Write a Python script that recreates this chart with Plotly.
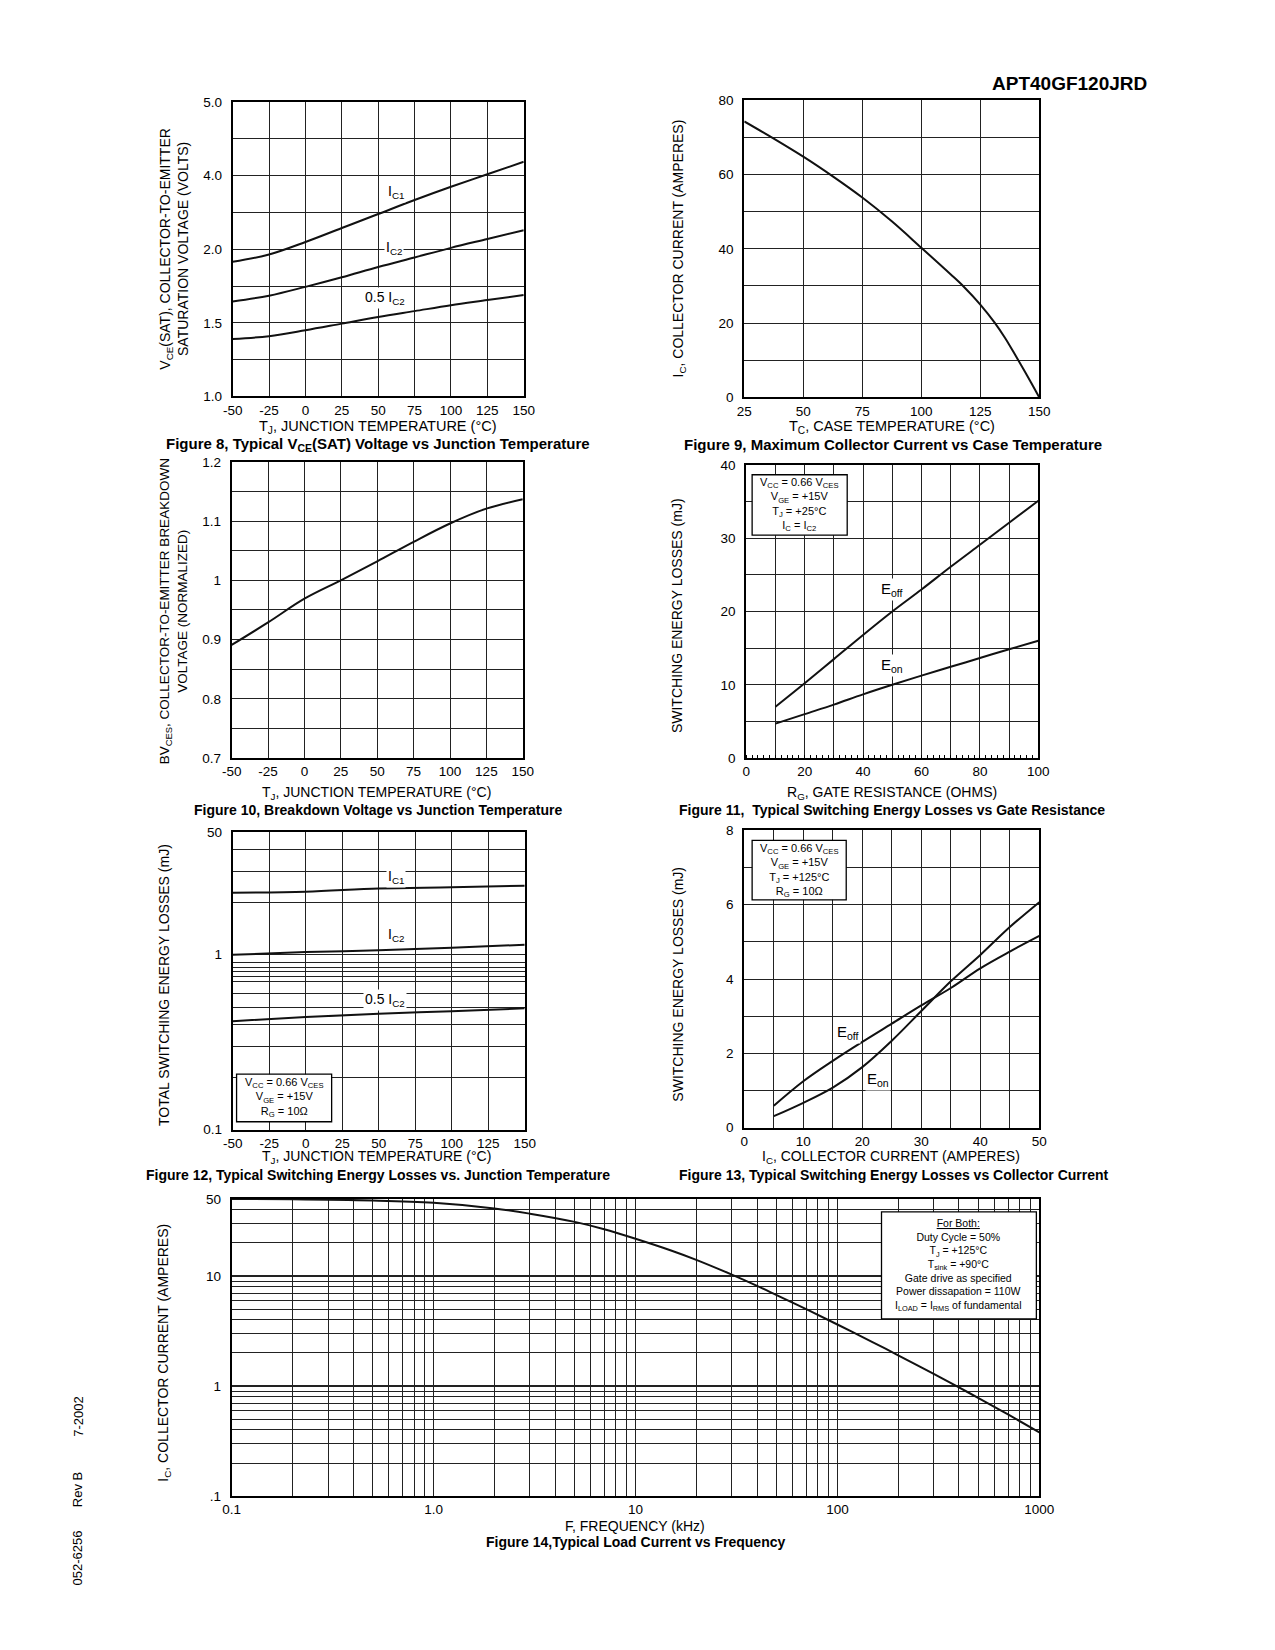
import math
import plotly.graph_objects as go

# page is 1275 x 1650; the browser body keeps its default 8px margin,
# so the figure itself is 16px smaller and page coordinates are shifted by 8px.
PAGE_W, PAGE_H = 1275, 1650
OFF = 8
W, H = PAGE_W - 2 * OFF, PAGE_H - 2 * OFF

# ---------------- data ----------------
# Figure 8: VCE(SAT) vs junction temperature (axis units of the printed grid)
tj8 = [-50, -25, 0, 25, 50, 75, 100, 125, 150]
vce_ic1 = [2.83, 2.93, 3.10, 3.29, 3.48, 3.67, 3.85, 4.02, 4.19]
vce_ic2 = [2.29, 2.37, 2.49, 2.62, 2.76, 2.89, 3.02, 3.14, 3.26]
vce_half = [1.78, 1.82, 1.90, 1.99, 2.08, 2.16, 2.24, 2.31, 2.38]
y8_tickvals = [1, 2, 3, 4, 5]
y8_ticktext = ["1.0", "1.5", "2.0", "4.0", "5.0"]

temp_tickvals = [-50, -25, 0, 25, 50, 75, 100, 125, 150]
temp_ticktext = ["-50", "-25", "0", "25", "50", "75", "100", "125", "150"]

# Figure 9: max collector current vs case temperature
tc9 = [25, 35, 50, 62.5, 75, 87.5, 100, 112.5, 118, 125, 131, 135.5, 140, 145, 150]
ic9 = [74.3, 70.6, 64.8, 59.5, 53.8, 47.4, 40.3, 33.1, 29.8, 25.0, 20.2, 16.0, 11.2, 5.7, 0.0]

# Figure 10: breakdown voltage vs junction temperature
tj10 = [-50, -25, 0, 25, 50, 75, 100, 125, 150]
bv10 = [0.891, 0.929, 0.969, 1.000, 1.032, 1.065, 1.096, 1.121, 1.137]
y10_tickvals = [0.7, 0.8, 0.9, 1.0, 1.1, 1.2]
y10_ticktext = ["0.7", "0.8", "0.9", "1", "1.1", "1.2"]

# Figure 11: switching energy vs gate resistance
rg11 = [10, 20, 30, 40, 50, 60, 70, 80, 90, 100]
eoff11 = [7.0, 10.2, 13.5, 16.8, 20.0, 23.0, 26.1, 29.1, 32.1, 35.1]
eon11 = [4.7, 6.0, 7.3, 8.7, 10.0, 11.25, 12.45, 13.65, 14.85, 16.0]
x11_tickvals = [0, 10, 20, 30, 40, 50, 60, 70, 80, 90, 100]
x11_ticktext = ["0", "", "20", "", "40", "", "60", "", "80", "", "100"]

# Figure 12: total switching energy vs junction temperature
tj12 = [-50, 0, 50, 100, 150]
ets_ic1 = [2.26, 2.29, 2.39, 2.43, 2.48]
ets_ic2 = [1.00, 1.035, 1.06, 1.095, 1.14]
ets_half = [0.417, 0.44, 0.46, 0.475, 0.494]
y12_tickvals = [0.1, 1, 5]
y12_ticktext = ["0.1", "1", "50"]
y12_grid = [0.2, 0.3, 0.4, 0.5, 0.6, 0.7, 0.75, 0.8, 0.85, 0.9, 2, 3, 4]

# Figure 13: switching energy vs collector current
ic13 = [5, 10, 15, 20, 25, 30, 35, 40, 45, 50]
eoff13 = [0.59, 1.25, 1.80, 2.31, 2.80, 3.29, 3.76, 4.29, 4.74, 5.16]
eon13 = [0.31, 0.67, 1.08, 1.63, 2.34, 3.14, 3.94, 4.65, 5.40, 6.07]

# Figure 14: load current vs frequency
f14 = [0.1, 0.2, 0.5, 1, 2, 3, 5, 7, 10, 15, 20, 30, 40, 50, 70, 100, 150, 200, 300, 400, 500, 700, 1000]
i14 = [50, 49.8, 48.5, 46.2, 41.1, 36.8, 31.0, 26.6, 21.8, 17.06, 14.03, 10.3, 8.14, 6.71, 5.0, 3.63, 2.50,
       1.906, 1.29, 0.974, 0.779, 0.553, 0.381]
x14_tickvals = [0.1, 1, 10, 100, 1000]
x14_ticktext = ["0.1", "1.0", "10", "100", "1000"]
y14_tickvals = [0.1, 1, 10, 50]
y14_ticktext = [".1", "1", "10", "50"]

# ---------------- layout geometry (page pixels) ----------------
BOX = {
    1: (227, 96, 524, 393),
    2: (749, 94, 1050, 394),
    3: (226, 459, 523, 758),
    4: (751, 462, 1049, 758),
    5: (227, 833, 525, 1133),
    6: (749, 831, 1050, 1131),
    7: (226, 1203, 1050, 1503),
}

FONT = "Liberation Sans, Arial, Helvetica, sans-serif"
BLACK = "black"
GRID = "#222222"


def px(x):
    return (x - OFF) / W


def py(y):
    return 1 - (y - OFF) / H


def dx(x0, x1):
    return [px(x0), px(x1)]


def dy(y0, y1):
    return [py(y1), py(y0)]


def log_minor(decades):
    vals = []
    for d in decades:
        for m in range(2, 10):
            vals.append(m * 10 ** d)
    return vals


fig = go.Figure()

LINE = dict(color="#111111", width=2)


def add_curve(x, y, n):
    fig.add_trace(go.Scatter(
        x=x, y=y, mode="lines", line=dict(shape="spline", smoothing=1.0, **LINE),
        xaxis="x" if n == 1 else f"x{n}", yaxis="y" if n == 1 else f"y{n}",
        showlegend=False, hoverinfo="skip"))


add_curve(tj8, vce_ic1, 1)
add_curve(tj8, vce_ic2, 1)
add_curve(tj8, vce_half, 1)
add_curve(tc9, ic9, 2)
add_curve(tj10, bv10, 3)
add_curve(rg11, eoff11, 4)
add_curve(rg11, eon11, 4)
add_curve(tj12, ets_ic1, 5)
add_curve(tj12, ets_ic2, 5)
add_curve(tj12, ets_half, 5)
add_curve(ic13, eoff13, 6)
add_curve(ic13, eon13, 6)
add_curve(f14, i14, 7)


def base_axis(n, which, **kw):
    x0, y0, x1, y1 = BOX[n]
    d = dict(
        showline=True, mirror=True, linecolor=BLACK, linewidth=2,
        showgrid=True, gridcolor=GRID, gridwidth=1, zeroline=False,
        ticks="", tickfont=dict(family=FONT, size=13.5, color=BLACK),
        fixedrange=True,
    )
    if which == "x":
        d["domain"] = dx(x0, x1)
        d["anchor"] = "y" if n == 1 else f"y{n}"
    else:
        d["domain"] = dy(y0, y1)
        d["anchor"] = "x" if n == 1 else f"x{n}"
        d["ticklabelstandoff"] = 6
    d.update(kw)
    return d


def grid_minor(**kw):
    d = dict(showgrid=True, gridcolor=GRID, gridwidth=1)
    d.update(kw)
    return d


temp_ticks = dict(range=[-50, 150], tickmode="array", tickvals=temp_tickvals, ticktext=temp_ticktext)

axes = {}
# Fig 8
axes["xaxis"] = base_axis(1, "x", **temp_ticks)
axes["yaxis"] = base_axis(1, "y", range=[1, 5], tickmode="array", tickvals=y8_tickvals,
                          ticktext=y8_ticktext, minor=grid_minor(dtick=0.5, tick0=1))
# Fig 9
axes["xaxis2"] = base_axis(2, "x", range=[25, 150], tickmode="linear", tick0=25, dtick=25)
axes["yaxis2"] = base_axis(2, "y", range=[0, 80], tickmode="linear", tick0=0, dtick=20,
                           minor=grid_minor(dtick=10, tick0=0))
# Fig 10
axes["xaxis3"] = base_axis(3, "x", **temp_ticks)
axes["yaxis3"] = base_axis(3, "y", range=[0.7, 1.2], tickmode="array", tickvals=y10_tickvals,
                           ticktext=y10_ticktext, minor=grid_minor(dtick=0.05, tick0=0.7))
# Fig 11
axes["xaxis4"] = base_axis(4, "x", range=[0, 100], tickmode="array", tickvals=x11_tickvals,
                           ticktext=x11_ticktext,
                           minor=dict(dtick=2, tick0=0, ticks="inside", ticklen=3, tickcolor=BLACK,
                                      tickwidth=1, showgrid=False))
axes["yaxis4"] = base_axis(4, "y", range=[0, 40], tickmode="linear", tick0=0, dtick=10,
                           minor=grid_minor(dtick=5, tick0=0))
# Fig 12
axes["xaxis5"] = base_axis(5, "x", **temp_ticks)
axes["yaxis5"] = base_axis(5, "y", type="log", range=[-1, math.log10(5)], tickmode="array",
                           tickvals=y12_tickvals, ticktext=y12_ticktext,
                           minor=grid_minor(tickmode="array", tickvals=y12_grid))
# Fig 13
axes["xaxis6"] = base_axis(6, "x", range=[0, 50], tickmode="linear", tick0=0, dtick=10,
                           minor=grid_minor(dtick=5, tick0=0))
axes["yaxis6"] = base_axis(6, "y", range=[0, 8], tickmode="linear", tick0=0, dtick=2,
                           minor=grid_minor(dtick=1, tick0=0))
# Fig 14
axes["xaxis7"] = base_axis(7, "x", type="log", range=[-1, 3], tickmode="array",
                           tickvals=x14_tickvals, ticktext=x14_ticktext,
                           minor=grid_minor(tickmode="array", tickvals=log_minor([-1, 0, 1, 2])))
axes["yaxis7"] = base_axis(7, "y", type="log", range=[-1, math.log10(50)], tickmode="array",
                           tickvals=y14_tickvals, ticktext=y14_ticktext, gridwidth=2,
                           minor=grid_minor(tickmode="array", tickvals=log_minor([-1, 0]) + [20, 30, 40]))

annotations = []


def txt(text, x, y, size=14, angle=0, xanchor="center", yanchor="middle", bold=False, **kw):
    if bold:
        text = f"<b>{text}</b>"
    annotations.append(dict(
        text=text, x=px(x), y=py(y), xref="paper", yref="paper", showarrow=False,
        xanchor=xanchor, yanchor=yanchor, textangle=angle,
        font=dict(family=FONT, size=size, color=BLACK), **kw))


# header / footer
txt("APT40GF120JRD", 1162, 77, size=19, xanchor="right", bold=True)
txt("052-6256", 69, 1565, size=13, angle=-90)
txt("Rev B", 69, 1496, size=13, angle=-90)
txt("7-2002", 69, 1423, size=13, angle=-90)

# x axis titles
txt("T<sub>J</sub>, JUNCTION TEMPERATURE (°C)", 375, 424, size=14.5)
txt("T<sub>C</sub>, CASE TEMPERATURE (°C)", 900, 424, size=14.5)
txt("T<sub>J</sub>, JUNCTION TEMPERATURE (°C)", 374, 793, size=14)
txt("R<sub>G</sub>, GATE RESISTANCE (OHMS)", 900, 793, size=14)
txt("T<sub>J</sub>, JUNCTION TEMPERATURE (°C)", 374, 1161, size=14)
txt("I<sub>C</sub>, COLLECTOR CURRENT (AMPERES)", 899, 1161, size=14)
txt("F, FREQUENCY (kHz)", 637, 1533, size=14)

# captions
txt("Figure 8, Typical V<sub>CE</sub>(SAT) Voltage vs Junction Temperature", 375, 441, size=15, bold=True)
txt("Figure 9, Maximum Collector Current vs Case Temperature", 901, 441, size=15, bold=True)
txt("Figure 10, Breakdown Voltage vs Junction Temperature", 375, 810, size=14, bold=True)
txt("Figure 11,  Typical Switching Energy Losses vs Gate Resistance", 900, 810, size=14, bold=True)
txt("Figure 12, Typical Switching Energy Losses vs. Junction Temperature", 375, 1179, size=14, bold=True)
txt("Figure 13, Typical Switching Energy Losses vs Collector Current", 902, 1179, size=14, bold=True)
txt("Figure 14,Typical Load Current vs Frequency", 638, 1549, size=14, bold=True)

# y axis titles
txt("V<sub>CE</sub>(SAT), COLLECTOR-TO-EMITTER<br>SATURATION VOLTAGE (VOLTS)", 167, 244, size=14, angle=-90)
txt("I<sub>C</sub>, COLLECTOR CURRENT (AMPERES)", 682, 244, size=14, angle=-90)
txt("BV<sub>CES</sub>, COLLECTOR-TO-EMITTER BREAKDOWN<br>VOLTAGE (NORMALIZED)", 167, 610, size=13.5, angle=-90)
txt("SWITCHING ENERGY LOSSES (mJ)", 681, 614, size=14, angle=-90)
txt("TOTAL SWITCHING ENERGY LOSSES (mJ)", 157, 987, size=14, angle=-90)
txt("SWITCHING ENERGY LOSSES (mJ)", 681, 986, size=14, angle=-90)
txt("I<sub>C</sub>, COLLECTOR CURRENT (AMPERES)", 157, 1358, size=14, angle=-90)


def label(text, x, y, n, size=14):
    annotations.append(dict(
        text=text, x=x, y=y, xref="x" if n == 1 else f"x{n}", yref="y" if n == 1 else f"y{n}",
        showarrow=False, bgcolor="white", borderpad=1,
        font=dict(family=FONT, size=size, color=BLACK)))


# curve labels
label("I<sub>C1</sub>", 62, 3.78, 1)
label("I<sub>C2</sub>", 61, 3.02, 1)
label("0.5 I<sub>C2</sub>", 55, 2.34, 1)
label("E<sub>off</sub>", 50, 23.0, 4, size=15)
label("E<sub>on</sub>", 50, 12.6, 4, size=15)
label("I<sub>C1</sub>", 62, math.log10(2.78), 5)
label("I<sub>C2</sub>", 62, math.log10(1.30), 5)
label("0.5 I<sub>C2</sub>", 54, math.log10(0.552), 5)
label("E<sub>off</sub>", 17.6, 2.56, 6, size=15)
label("E<sub>on</sub>", 22.6, 1.31, 6, size=15)

# condition boxes
shapes = []


def cond_box(x0, y0, x1, y1, lines, size=11):
    shapes.append(dict(type="rect", xref="paper", yref="paper", x0=px(x0), x1=px(x1),
                       y0=py(y1), y1=py(y0), fillcolor="white",
                       line=dict(color=BLACK, width=1.3), layer="above"))
    txt("<br>".join(lines), (x0 + x1) / 2, (y0 + y1) / 2, size=size)


cond_box(757, 472, 854, 533, ["V<sub>CC</sub> = 0.66 V<sub>CES</sub>", "V<sub>GE</sub> = +15V",
                              "T<sub>J</sub> = +25°C", "I<sub>C</sub> = I<sub>C2</sub>"])
cond_box(757, 841, 853, 901, ["V<sub>CC</sub> = 0.66 V<sub>CES</sub>", "V<sub>GE</sub> = +15V",
                              "T<sub>J</sub> = +125°C", "R<sub>G</sub> = 10Ω"])
cond_box(231, 1077, 328, 1125, ["V<sub>CC</sub> = 0.66 V<sub>CES</sub>", "V<sub>GE</sub> = +15V",
                                "R<sub>G</sub> = 10Ω"])
cond_box(889, 1216, 1047, 1324, ["<u>For Both:</u>", "Duty Cycle = 50%", "T<sub>J</sub> = +125°C",
                                 "T<sub>sink</sub> = +90°C", "Gate drive as specified",
                                 "Power dissapation = 110W",
                                 "I<sub>LOAD</sub> = I<sub>RMS</sub> of fundamental"], size=10.5)

fig.update_layout(
    width=W, height=H, margin=dict(l=0, r=0, t=0, b=0, pad=0),
    paper_bgcolor="white", plot_bgcolor="white",
    font=dict(family=FONT, color=BLACK),
    showlegend=False, annotations=annotations, shapes=shapes,
    **axes,
)

fig.write_html("out.html", config={"displayModeBar": False})
